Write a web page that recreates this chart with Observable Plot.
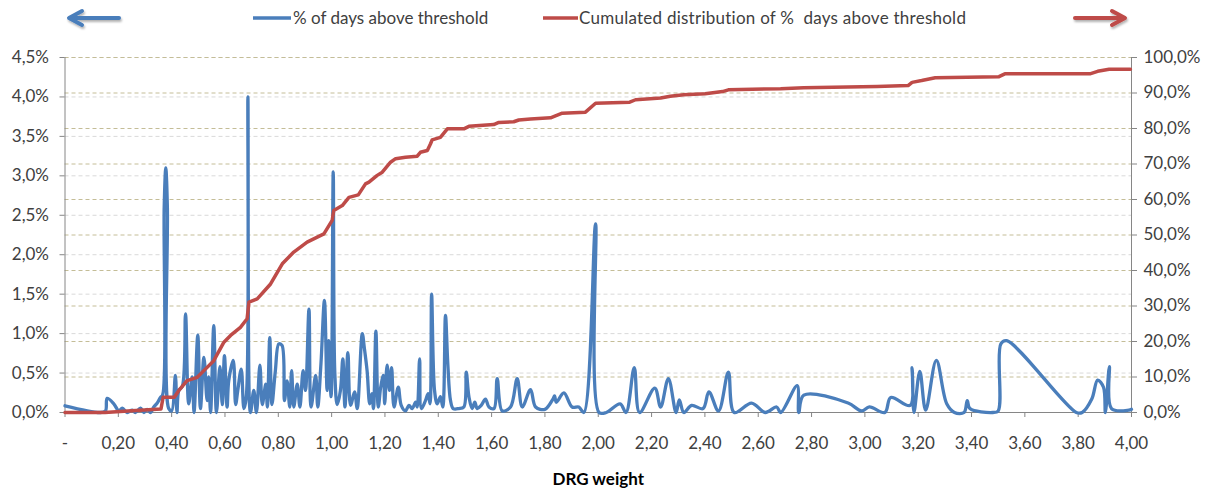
<!DOCTYPE html>
<html>
<head>
<meta charset="utf-8">
<script src="https://cdn.jsdelivr.net/npm/d3@7"></script>
<script src="https://cdn.jsdelivr.net/npm/@observablehq/plot@0.6"></script>
<style>
  body { margin: 0; background: #fff; font-family: Lato, sans-serif; }
  #wrap { width: 1212px; }
  #legend { position: relative; width: 1212px; height: 36px; color: #404040; font-size: 17px; }
  #legend .t { position: absolute; top: 8px; line-height: 20px; white-space: pre; }
  #legend svg { position: absolute; left: 0; top: 0; }
</style>
</head>
<body>
<div id="wrap">
  <div id="legend">
    <svg width="1212" height="36">
      <defs>
        <filter id="sh" x="-20%" y="-50%" width="140%" height="200%">
          <feDropShadow dx="1" dy="2" stdDeviation="1" flood-color="#000" flood-opacity="0.3"/>
        </filter>
      </defs>
      <g filter="url(#sh)" fill="none" stroke-linecap="round" stroke-linejoin="round">
        <line x1="119" y1="18" x2="71" y2="18" stroke="#4a7ebb" stroke-width="4"/>
        <polyline points="82,11 69,18 82,25" stroke="#4a7ebb" stroke-width="4"/>
        <line x1="1075" y1="18" x2="1123" y2="18" stroke="#be4b48" stroke-width="4"/>
        <polyline points="1112,11 1125,18 1112,25" stroke="#be4b48" stroke-width="4"/>
      </g>
      <line x1="253" y1="18" x2="291" y2="18" stroke="#4a7ebb" stroke-width="3.5"/>
      <line x1="543" y1="18" x2="578" y2="18" stroke="#be4b48" stroke-width="3.5"/>
    </svg>
    <span class="t" id="lg1" style="left:293px">% of days above threshold</span>
    <span class="t" id="lg2" style="left:579px;letter-spacing:0.25px">Cumulated distribution of %  days above threshold</span>
  </div>
  <div id="chart"></div>
</div>
<script>
// DRG weight (x) and % of days above threshold (left axis, %)
const blueX = [0,0.133,0.152,0.158,0.183,0.202,0.215,0.233,0.252,0.264,0.283,0.296,0.308,0.321,0.333,0.346,0.358,0.366,0.372,0.378,0.384,0.389,0.400,0.414,0.420,0.427,0.440,0.452,0.464,0.477,0.484,0.498,0.508,0.521,0.533,0.539,0.546,0.558,0.568,0.581,0.590,0.598,0.608,0.614,0.631,0.640,0.648,0.661,0.671,0.680,0.686,0.692,0.696,0.708,0.718,0.731,0.740,0.753,0.759,0.768,0.776,0.789,0.802,0.814,0.823,0.833,0.843,0.850,0.858,0.871,0.881,0.893,0.902,0.915,0.923,0.940,0.948,0.960,0.973,0.983,0.989,0.998,1.006,1.012,1.021,1.033,1.042,1.050,1.061,1.071,1.086,1.096,1.115,1.123,1.133,1.143,1.151,1.157,1.166,1.175,1.184,1.194,1.199,1.208,1.217,1.225,1.234,1.250,1.261,1.277,1.290,1.302,1.315,1.321,1.330,1.337,1.352,1.362,1.369,1.375,1.386,1.396,1.408,1.417,1.427,1.436,1.446,1.456,1.477,1.496,1.505,1.515,1.527,1.537,1.546,1.561,1.577,1.590,1.609,1.621,1.640,1.671,1.696,1.715,1.746,1.765,1.800,1.830,1.836,1.843,1.871,1.902,1.927,1.946,1.990,2.003,2.030,2.082,2.104,2.135,2.155,2.212,2.234,2.263,2.292,2.304,2.321,2.350,2.393,2.415,2.451,2.488,2.510,2.575,2.626,2.669,2.684,2.746,2.752,2.771,2.937,2.988,3.017,3.075,3.097,3.170,3.177,3.184,3.206,3.228,3.268,3.307,3.336,3.372,3.384,3.394,3.480,3.500,3.510,3.532,3.793,3.815,3.851,3.873,3.895,3.902,3.917,3.925,3.990,4.000];
const blueY = [0.085,0,0.02,0.18,0.11,0.02,0.055,0,0.03,0,0.055,0,0.04,0,0.07,0.12,0.19,0.22,2.6,3.1,2.6,0.05,0.02,0.47,0,0.28,0.33,1.25,0.11,0.45,0,0.98,0.05,0.70,0.15,0.45,0,1.10,0,0.58,0.10,0.72,0.07,0.40,0.66,0.10,0.28,0.55,0.05,0.2,4.0,0.1,0,0.28,0,0.60,0.10,0.36,0.07,0.95,0.10,0.53,0.87,0.85,0.15,0.40,0.07,0.53,0.07,0.36,0.07,0.53,0.28,1.31,0.07,0.47,0.07,0.62,1.42,0.28,0.91,0.20,3.05,0.5,0.10,0.28,0.68,0.07,0.76,0.09,0.26,0.05,1.00,0.81,0.53,0.11,0.24,0.05,1.03,0.07,0.32,0.47,0.11,0.60,0.28,0.57,0.07,0.32,0.09,0.02,0.09,0.05,0.13,0.07,0.68,0.05,0.15,0.24,0.11,1.50,0.28,0.11,0.20,0.07,1.23,0.60,0.15,0.05,0.05,0.07,0.51,0.20,0.05,0.13,0.05,0.09,0.17,0.07,0.05,0.43,0.02,0.07,0.43,0.07,0.29,0.07,0.04,0.17,0.21,0.13,0.25,0.07,0.07,0,2.39,0,0,0.11,0,0.57,0,0.31,0.07,0.43,0,0.16,0,0.09,0.05,0.26,0.02,0.51,0,0.12,0,0.07,0,0.34,0,0.22,0.12,0.02,0.07,0,0.19,0.09,0.57,0,0.52,0.03,0.66,0.11,0,0,0.15,0.05,0,0.02,0.87,0.91,0,0,0.17,0.41,0.32,0,0.58,0.05,0.03,0.04];

// DRG weight (x) and cumulated distribution (right axis, %)
const redX = [0,0.15,0.25,0.36,0.368,0.41,0.427,0.458,0.496,0.521,0.558,0.596,0.621,0.658,0.683,0.690,0.721,0.771,0.815,0.858,0.908,0.971,1.002,1.008,1.040,1.065,1.100,1.127,1.140,1.171,1.190,1.221,1.240,1.277,1.321,1.333,1.359,1.371,1.377,1.408,1.434,1.496,1.515,1.608,1.627,1.683,1.702,1.746,1.821,1.865,1.952,1.990,2.118,2.140,2.234,2.270,2.321,2.401,2.466,2.488,2.684,2.770,3.046,3.162,3.177,3.213,3.264,3.503,3.525,3.844,3.873,3.916,3.996];
const redY = [0,0,0.5,1.0,4.3,4.3,6.2,9.0,9.9,11.8,14.6,19.8,21.7,24.0,26.4,31.1,32.0,36.2,41.9,45.2,48.0,50.3,54.1,56.9,58.3,60.6,61.3,64.4,64.9,66.8,67.7,70.5,71.5,71.9,72.2,73.3,73.8,75.7,76.8,77.5,79.9,79.9,80.6,81.1,81.7,81.9,82.4,82.7,83.0,84.3,84.6,87.1,87.4,88.1,88.6,89.1,89.5,89.8,90.4,90.9,91.2,91.5,91.8,92.1,93.0,93.5,94.3,94.6,95.4,95.4,96.1,96.7,96.7];

// Tick values
const xTicks = [0,0.2,0.4,0.6,0.8,1.0,1.2,1.4,1.6,1.8,2.0,2.2,2.4,2.6,2.8,3.0,3.2,3.4,3.6,3.8,4.0];
const leftTicks = [0,0.5,1.0,1.5,2.0,2.5,3.0,3.5,4.0,4.5];
const rightTicks = [0,10,20,30,40,50,60,70,80,90,100];
const leftMax = 4.5, rightMax = 100;
const k = leftMax / rightMax; // right-axis value -> left-axis units

const blue = blueX.map((x, i) => ({x, y: blueY[i]}));
const red = redX.map((x, i) => ({x, y: redY[i] * k}));
const comma = s => s.replace(".", ",");

const chart = Plot.plot({
  width: 1212,
  height: 453,
  marginTop: 21,
  marginBottom: 77,
  marginLeft: 64.5,
  marginRight: 81,
  style: {fontFamily: "Lato, sans-serif", fontSize: "17px", color: "#404040", background: "#fff"},
  x: {domain: [0, 4]},
  y: {domain: [0, leftMax]},
  marks: [
    Plot.ruleY(leftTicks.slice(1), {stroke: "#d9d9d9", strokeWidth: 1, strokeDasharray: "4,3"}),
    Plot.ruleY(rightTicks.slice(1).map(t => t * k), {stroke: "#c4bd97", strokeWidth: 1, strokeDasharray: "4,3"}),
    Plot.ruleX([0, 4], {stroke: "#868686"}),
    Plot.ruleY([0], {stroke: "#868686"}),
    Plot.axisY(leftTicks, {anchor: "left", tickSize: 5, tickPadding: 11, stroke: "#868686", fill: "#404040", label: null,
      tickFormat: d => comma(d.toFixed(1)) + "%"}),
    Plot.axisY(rightTicks.map(t => t * k), {anchor: "right", tickSize: 5, tickPadding: 7, stroke: "#868686", fill: "#404040", label: null,
      tickFormat: d => comma((d / k).toFixed(1)) + "%"}),
    Plot.axisX(xTicks, {anchor: "bottom", tickSize: 5, tickPadding: 19, stroke: "#868686", fill: "#404040", label: null,
      tickFormat: d => d === 0 ? "-" : comma(d.toFixed(2))}),
    Plot.text(["DRG weight"], {frameAnchor: "bottom", dy: 72, fontWeight: "bold", fill: "#000", fontSize: 17}),
    Plot.line(blue, {x: "x", y: "y", stroke: "#4a7ebb", strokeWidth: 3.3, curve: "catmull-rom"}),
    Plot.line(red, {x: "x", y: "y", stroke: "#be4b48", strokeWidth: 3.5})
  ]
});
document.getElementById("chart").appendChild(chart);
</script>
</body>
</html>
